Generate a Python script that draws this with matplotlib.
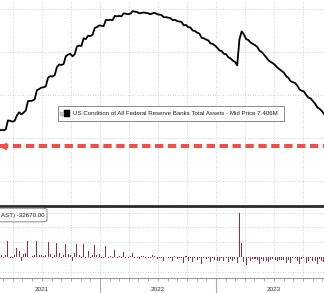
import numpy as np
import pandas as pd
import matplotlib
matplotlib.use('Agg')
import matplotlib.pyplot as plt
import matplotlib.dates as mdates
import matplotlib.transforms as mtransforms
from matplotlib.patches import Rectangle, FancyBboxPatch

# Fed total assets, weekly (Wednesdays), billions USD
assets_2021 = [7570, 7585, 7595, 7590, 7600, 7705, 7700, 7690, 7700, 7760, 7800, 7775,
               7795, 7820, 7930, 7930, 7935, 7950, 8055, 8070, 8085, 8090, 8100, 8200,
               8220, 8215, 8230, 8325, 8355, 8350, 8360, 8450, 8470, 8480, 8450, 8475,
               8565, 8575, 8570, 8660, 8650, 8690, 8685, 8700, 8780, 8790, 8810]
assets_2022 = [8805, 8800, 8875, 8870, 8875, 8870, 8920, 8915, 8920, 8915, 8950, 8945,
               8940, 8945, 8975, 8970, 8965, 8950, 8955, 8960, 8955, 8950, 8940, 8950,
               8955, 8940, 8935, 8930, 8905, 8905, 8900, 8895, 8870, 8875, 8860, 8855,
               8850, 8810, 8815, 8790, 8785, 8750, 8745, 8725, 8715, 8665, 8660, 8645,
               8635, 8600, 8595, 8575]
assets_2023 = [8550, 8520, 8510, 8480, 8475, 8440, 8425, 8400, 8385, 8345, 8645, 8740,
               8705, 8650, 8640, 8610, 8595, 8580, 8560, 8515, 8500, 8470, 8440, 8405,
               8385, 8370, 8350, 8320, 8300, 8280, 8260, 8220, 8200, 8160, 8150, 8140,
               8110, 8065, 8050, 8040, 8000, 7970, 7960, 7930, 7900, 7855, 7840, 7815,
               7780, 7740]
assets = np.array(assets_2021 + assets_2022 + assets_2023, dtype=float)
weeks = pd.date_range('2021-02-10', periods=len(assets), freq='W-WED')
weekly_change = np.diff(assets)  # bottom panel: week-over-week change

last_price = 7.406
legend_top = 'US Condition of All Federal Reserve Banks Total Assets - Mid Price 7.406M'
legend_bottom = 'AST) -32670.00'
years = [2021, 2022, 2023]

x_start = pd.Timestamp('2021-02-20')
x_end = pd.Timestamp('2023-12-06')

font = 'Liberation Sans'
grid_kw = dict(color='#c4c4c4', linewidth=0.6, linestyle=(0, (1, 2)))

fig = plt.figure(figsize=(3.24, 2.93), dpi=100, facecolor='white')
ax1 = fig.add_axes([0, 88 / 293, 1, 205 / 293])
ax2 = fig.add_axes([0, 15 / 293, 1, 72 / 293], sharex=ax1)

# top panel: level in trillions
ax1.plot(weeks, assets / 1000, color='black', linewidth=1.3, zorder=3)
ax1.axhline(last_price, color='#e4534f', linewidth=3, dashes=(2, 1.1), zorder=2)
ax1.plot([0.008], [last_price], marker='<', markersize=5, color='#e4534f',
         transform=ax1.get_yaxis_transform(), clip_on=False, zorder=3)
ax1.set_ylim(6.721, 9.105)
ax1.set_yticks([7.0, 7.5, 8.0, 8.5, 9.0])
ax1.xaxis.set_major_locator(mdates.MonthLocator(bymonth=[1, 4, 7, 10]))
ax1.grid(True, **grid_kw)
ax1.tick_params(length=0, labelbottom=False, labelleft=False)
for s in ax1.spines.values():
    s.set_visible(False)

# legend box of the top panel
ax1.add_patch(Rectangle((0.179, 0.41), 0.697, 0.073, transform=ax1.transAxes,
                        fc='white', ec='#8a8a8a', lw=0.7, zorder=5))
ax1.add_patch(Rectangle((0.186, 0.436), 0.008, 0.02, transform=ax1.transAxes,
                        fc='#d0d0d0', ec='#999999', lw=0.3, zorder=6))
ax1.add_patch(Rectangle((0.199, 0.429), 0.016, 0.034, transform=ax1.transAxes,
                        fc='black', ec='black', lw=0.3, zorder=6))
ax1.text(0.224, 0.446, legend_top, transform=ax1.transAxes, fontsize=4.42,
         family=font, color='#1a1a1a', va='center', ha='left', zorder=7)

# bottom panel: weekly change in billions
ax2.bar(weeks[1:], weekly_change, width=3.2, color='#8e3047', zorder=3)
ax2.set_ylim(-142, 344)
ax2.set_yticks([-100, 0, 100, 200, 300])
ax2.set_xlim(x_start, x_end)
ax2.xaxis.set_major_locator(mdates.MonthLocator(bymonth=[1, 4, 7, 10]))
ax2.xaxis.set_minor_locator(mdates.MonthLocator())
ax2.grid(True, **grid_kw)
ax2.tick_params(axis='y', length=0, labelleft=False)
ax2.tick_params(axis='x', which='both', length=2.5, width=0.6, color='#999999',
                labelbottom=False, direction='out')
for side in ['left', 'right']:
    ax2.spines[side].set_visible(False)
ax2.spines['top'].set_color('#2a2a2a')
ax2.spines['top'].set_linewidth(2)
ax2.spines['bottom'].set_color('#999999')
ax2.spines['bottom'].set_linewidth(0.8)

ax2.add_patch(FancyBboxPatch((-0.05, 0.78), 0.195, 0.19,
                             boxstyle='round,pad=0,rounding_size=0.02',
                             transform=ax2.transAxes, fc='white', ec='#8a8a8a',
                             lw=0.7, zorder=5, clip_on=False))
ax2.text(0.002, 0.875, legend_bottom, transform=ax2.transAxes, fontsize=4.4,
         family=font, color='#1a1a1a', va='center', ha='left', zorder=7)

trans = mtransforms.blended_transform_factory(ax2.transData, ax2.transAxes)
for yr in years:
    ax2.text(pd.Timestamp(f'{yr}-07-02'), -0.16, str(yr), transform=trans,
             fontsize=4.6, family=font, color='#333333', ha='center', va='center',
             clip_on=False)
    sep = pd.Timestamp(f'{yr}-01-01')
    if x_start < sep < x_end:
        ax2.plot([sep, sep], [0, -0.25], transform=trans, color='#aaaaaa',
                 linewidth=0.8, clip_on=False)

fig.savefig('out.png', dpi=100, facecolor='white')
